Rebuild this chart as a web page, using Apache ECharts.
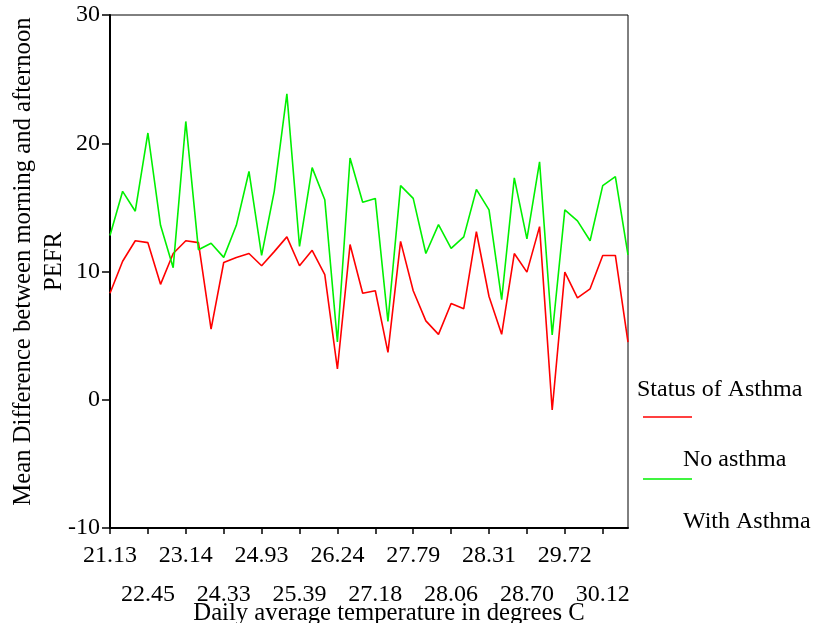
<!DOCTYPE html>
<html>
<head>
<meta charset="utf-8">
<script src="https://cdn.jsdelivr.net/npm/echarts@6/dist/echarts.min.js"></script>
<style>html,body{margin:0;padding:0;background:#fff}#chart{width:814px;height:623px}</style>
</head>
<body>
<div id="chart"></div>
<script>
const tickLabels = ['21.13','22.45','23.14','24.33','24.93','25.39','26.24','27.18','27.79','28.06','28.31','28.70','29.72','30.12'];
const noAsthma = [8.3,10.8,12.4,12.25,9.0,11.4,12.4,12.25,5.5,10.7,11.1,11.4,10.45,11.55,12.7,10.45,11.65,9.75,2.4,12.1,
  8.3,8.5,3.7,12.35,8.5,6.15,5.1,7.5,7.1,13.1,8.05,5.1,11.4,9.95,13.5,-0.8,9.95,7.95,8.65,11.25,11.25,4.5];
const withAsthma = [12.8,16.25,14.7,20.8,13.6,10.3,21.7,11.7,12.2,11.1,13.6,17.8,11.25,16.25,23.85,11.95,18.1,15.6,4.5,18.85,
  15.4,15.7,6.1,16.7,15.7,11.4,13.65,11.8,12.7,16.4,14.8,7.8,17.3,12.55,18.55,5.05,14.8,13.95,12.4,16.7,17.4,11.3];
const seriesNames = ['No asthma','With Asthma'];
const seriesColors = ['#ff0000','#00f000'];
const categories = noAsthma.map((_, i) => (i % 3 === 0 ? tickLabels[i / 3] : ''));

const FONT = "'Liberation Serif','Times New Roman',serif";
const labelBase = {fontFamily: FONT, fontSize: 24, color: '#000', hideOverlap: false};
const chart = echarts.init(document.getElementById('chart'), null, {renderer: 'canvas'});
chart.setOption({
  animation: false,
  backgroundColor: '#fff',
  grid: {left: 110, right: 186, top: 15, bottom: 95, show: true, borderColor: '#000', borderWidth: 1,
    containLabel: false, outerBoundsMode: 'none'},
  xAxis: [{
    type: 'category',
    data: categories,
    boundaryGap: false,
    name: 'Daily average temperature in degrees C',
    nameLocation: 'middle',
    nameGap: 73,
    nameMoveOverlap: false,
    nameTextStyle: {fontFamily: FONT, fontSize: 24.7, color: '#000', padding: [0, 0, 0, 40]},
    axisLine: {onZero: false, lineStyle: {color: '#000', width: 2}},
    axisTick: {interval: 2, length: 6, lineStyle: {color: '#000', width: 1.5}},
    axisLabel: Object.assign({}, labelBase, {margin: 16, interval: function (i) { return i % 6 === 0; }}),
    splitLine: {show: false}
  }, {
    type: 'category',
    data: categories,
    boundaryGap: false,
    position: 'bottom',
    axisLine: {show: false, onZero: false},
    axisTick: {show: false},
    axisLabel: Object.assign({}, labelBase, {margin: 55, interval: function (i) { return i % 6 === 3; }}),
    splitLine: {show: false}
  }],
  yAxis: {
    type: 'value',
    min: -10, max: 30, interval: 10,
    name: 'Mean Difference between morning and afternoon\nPEFR',
    nameLocation: 'middle',
    nameRotate: 90,
    nameGap: 40,
    nameMoveOverlap: false,
    nameTextStyle: {fontFamily: FONT, fontSize: 24.7, color: '#000', lineHeight: 31, padding: [0, 0, 0, 20]},
    axisLine: {show: true, onZero: false, lineStyle: {color: '#000', width: 2}},
    axisTick: {show: true, length: 8, lineStyle: {color: '#000', width: 1.5}},
    axisLabel: {margin: 10, fontFamily: FONT, fontSize: 24, color: '#000', showMinLabel: true, showMaxLabel: true},
    splitLine: {show: false}
  },
  series: [
    {name: seriesNames[0], type: 'line', xAxisIndex: 0, data: noAsthma, symbol: 'none', lineStyle: {color: seriesColors[0], width: 1.6}, itemStyle: {color: seriesColors[0]}},
    {name: seriesNames[1], type: 'line', xAxisIndex: 0, data: withAsthma, symbol: 'none', lineStyle: {color: seriesColors[1], width: 1.6}, itemStyle: {color: seriesColors[1]}}
  ],
  graphic: [
    {type: 'text', left: 637, top: 378, style: {text: 'Status of Asthma', font: '24px ' + FONT, fill: '#000'}},
    {type: 'line', shape: {x1: 643, y1: 417, x2: 692, y2: 417}, style: {stroke: seriesColors[0], lineWidth: 1.6}},
    {type: 'text', left: 683, top: 448, style: {text: seriesNames[0], font: '24px ' + FONT, fill: '#000'}},
    {type: 'line', shape: {x1: 643, y1: 479, x2: 692, y2: 479}, style: {stroke: seriesColors[1], lineWidth: 1.6}},
    {type: 'text', left: 683, top: 510, style: {text: seriesNames[1], font: '24px ' + FONT, fill: '#000'}}
  ]
});
</script>
</body>
</html>
